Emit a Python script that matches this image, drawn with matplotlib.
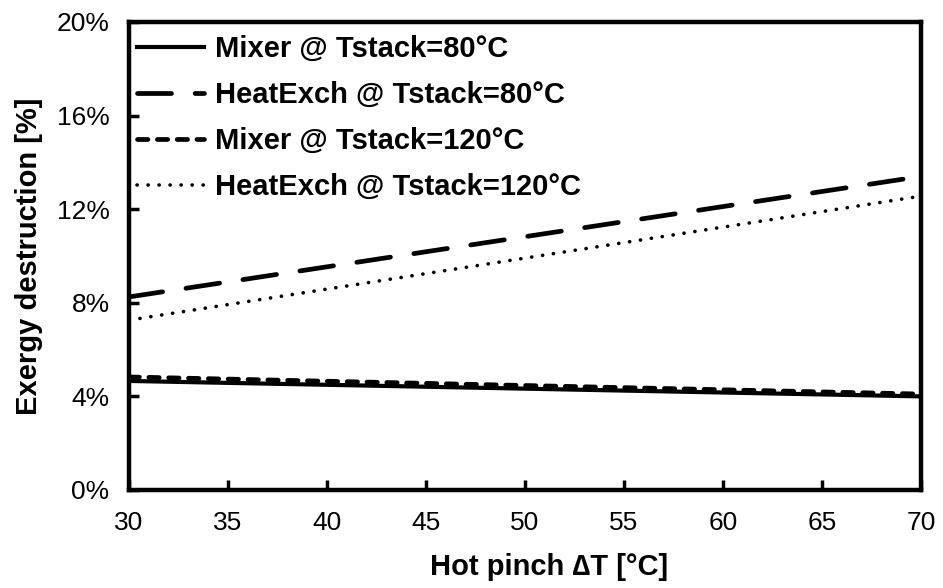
import matplotlib.pyplot as plt
from matplotlib.ticker import FuncFormatter

plt.rcParams['font.family'] = ['Liberation Sans', 'DejaVu Sans']

# Hot pinch temperature difference [°C]
pinch = [30, 70]

# Exergy destruction [%] for each component / stack temperature
mixer_80 = [4.66, 4.00]
heatexch_80 = [8.25, 13.40]
mixer_120 = [4.83, 4.10]
heatexch_120 = [7.26, 12.56]

labels = ['Mixer @ Tstack=80°C', 'HeatExch @ Tstack=80°C',
          'Mixer @ Tstack=120°C', 'HeatExch @ Tstack=120°C']

fig = plt.figure(figsize=(9.43, 5.88), dpi=100)
ax = fig.add_axes([0.1368, 0.1667, 0.8399, 0.7959])

ax.plot(pinch, mixer_80, color='black', linewidth=3.0, linestyle='solid', label=labels[0])
ax.plot(pinch, heatexch_80, color='black', linewidth=3.4, linestyle=(0, (7.2, 5.0)),
        dash_capstyle='round', label=labels[1])
ax.plot(pinch, mixer_120, color='black', linewidth=3.4, linestyle=(0, (2.2, 2.0)),
        dash_capstyle='round', label=labels[2])
ax.plot(pinch, heatexch_120, color='black', linewidth=2.6, linestyle=(0, (0.05, 3.0)),
        dash_capstyle='round', label=labels[3])

ax.set_xlim(30, 70)
ax.set_ylim(0, 20)
ax.set_xticks(range(30, 71, 5))
ax.set_yticks([0, 4, 8, 12, 16, 20])
ax.yaxis.set_major_formatter(FuncFormatter(lambda v, p: f'{v:.0f}%'))

ax.tick_params(direction='in', length=7, width=2.5, labelsize=19)
ax.tick_params(axis='x', pad=15)
ax.tick_params(axis='y', pad=14)
for s in ax.spines.values():
    s.set_linewidth(3.2)

ax.set_xlabel('Hot pinch \u2206T [°C]', fontsize=21, fontweight='bold', labelpad=10)
ax.xaxis.set_label_coords(0.53, -0.135)
ax.set_ylabel('Exergy destruction [%]', fontsize=21, fontweight='bold', labelpad=10)

ax.legend(loc='upper left', bbox_to_anchor=(0.0101, 0.972), frameon=False,
          prop={'size': 21, 'weight': 'bold'},
          handlelength=2.3, handletextpad=0.38, labelspacing=0.62,
          borderaxespad=0, borderpad=0)

fig.savefig('out.png', dpi=100)
